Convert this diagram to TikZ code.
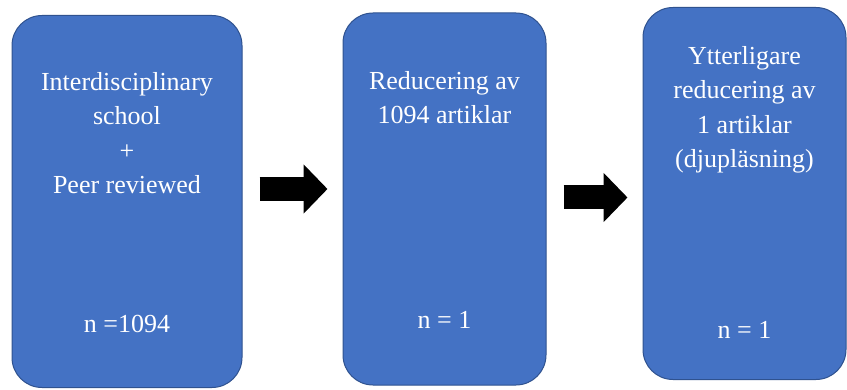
\documentclass[tikz,border=0pt]{standalone}
\usepackage{fontspec}
\setmainfont{Liberation Serif}
\usepackage{xcolor}
\usepackage{tikz}
\usetikzlibrary{arrows.meta,positioning,calc}
\definecolor{boxfill}{HTML}{4472C4}
\definecolor{boxline}{HTML}{2F528F}

\begin{document}
\begin{tikzpicture}[x=1pt,y=1pt,
    stage/.style={draw=boxline,fill=boxfill,line width=1pt,rounded corners=30pt,
        minimum height=372pt,inner sep=0pt},
    txt/.style={text=white,align=center,font=\fontsize{26}{34.5}\selectfont},
    bigarrow/.style={line width=24pt,-{Triangle[length=24pt,width=48pt]},
        shorten <=17pt,shorten >=15pt}]
    \useasboundingbox (0,0) rectangle (847,389);
    % the three steps
    \node[stage,minimum width=230pt] (box1) at (127,187.5) {};
    \node[stage,minimum width=203pt] (box2) at (444.5,190) {};
    \node[stage,minimum width=203pt] (box3) at (744.5,195.5) {};
    \node[txt] (t1) at ([yshift=-118pt]box1.north)
        {Interdisciplinary\\school\\+\\Peer reviewed};
    \node[txt] (n1) at ([yshift=64pt]box1.south) {n =1094};
    \node[txt] (t2) at ([yshift=-85pt]box2.north)
        {Reducering av\\1094 artiklar};
    \node[txt] (n2) at ([yshift=66pt]box2.south) {n = 1};
    \node[txt] (t3) at ([yshift=-103pt]box3.north)
        {Ytterligare\\reducering av\\1 artiklar\\(djupläsning)};
    \node[txt] (n3) at ([yshift=50pt]box3.south) {n = 1};
    % block arrows
    \draw[bigarrow] ([yshift=12.5pt]box1.east) -- ([yshift=12.5pt]box1.east -| box2.west);
    \draw[bigarrow] ([yshift=1.5pt]box2.east) -- ([yshift=1.5pt]box2.east -| box3.west);
\end{tikzpicture}
\end{document}
